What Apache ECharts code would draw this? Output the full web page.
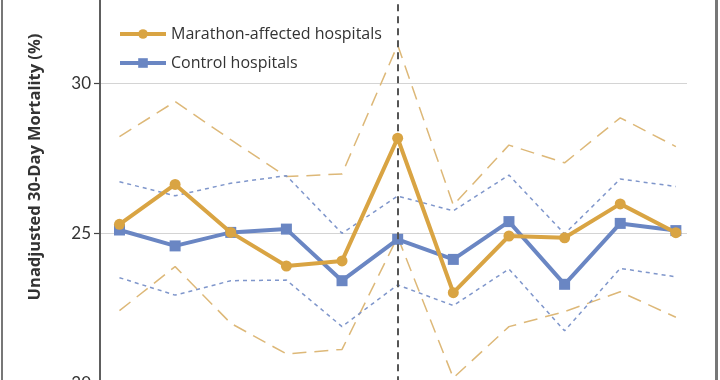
<!DOCTYPE html>
<html><head><meta charset="utf-8">
<script src="https://cdn.jsdelivr.net/npm/echarts@6/dist/echarts.min.js"></script>
<style>html,body{margin:0;padding:0;background:#fff}#c{width:720px;height:380px}</style>
</head><body><div id="c"></div>
<script>
var periods = [1,2,3,4,5,6,7,8,9,10,11];
var marathon = [25.30,26.63,25.03,23.91,24.08,28.17,23.02,24.91,24.85,25.98,25.02];
var marathonUpper = [28.22,29.39,28.12,26.89,26.98,31.28,25.94,27.94,27.35,28.85,27.89];
var marathonLower = [22.42,23.89,22.00,20.98,21.13,24.88,20.18,21.89,22.39,23.05,22.20];
var control = [25.11,24.58,25.03,25.14,23.42,24.80,24.13,25.39,23.30,25.33,25.09];
var controlUpper = [26.72,26.25,26.67,26.92,25.00,26.24,25.75,26.94,24.98,26.81,26.56];
var controlLower = [23.52,22.94,23.42,23.44,21.89,23.28,22.59,23.81,21.75,23.83,23.55];
var eventIndex = 5;
var xMin = 0.65, xMax = 11.2;

function pairs(arr){ return arr.map(function(v,i){ return [periods[i], v]; }); }

var orange = '#D9A443', orangeLight = '#DDB878', blue = '#6A86C3', blueLight = '#7F96CB';
var chart = echarts.init(document.getElementById('c'));
chart.setOption({
  animation: false,
  grid: {left: 100, right: 33, top: -66.7, bottom: -3.3, outerBoundsMode: 'none', containLabel: false},
  xAxis: {type: 'value', min: xMin, max: xMax, show: false},
  yAxis: {
    type: 'value', min: 20, max: 35, interval: 5, position: 'left',
    axisLine: {show: true, onZero: false, lineStyle: {color: '#555', width: 1.5}},
    axisTick: {show: true, inside: false, length: 6, lineStyle: {color: '#444', width: 1.2}},
    axisLabel: {color: '#333', fontSize: 17, fontFamily: 'Lato', margin: 9},
    splitLine: {show: true, lineStyle: {color: '#d4d4d4', width: 1.2}}
  },
  legend: {
    show: true, left: 113, top: 20, orient: 'vertical', itemGap: 11,
    itemWidth: 46, itemHeight: 12,
    lineStyle: {width: 4},
    textStyle: {fontSize: 16, fontFamily: 'Open Sans', color: '#333', lineHeight: 18},
    data: ['Marathon-affected hospitals', 'Control hospitals']
  },
  series: [
    {type: 'line', name: 'mu', data: pairs(marathonUpper), symbol: 'none', silent: true,
     lineStyle: {color: orangeLight, width: 1.5, type: [14, 8]}, z: 2,
     markLine: {silent: true, symbol: 'none', label: {show: false},
       lineStyle: {color: '#555', width: 1.5, type: 'solid'},
       data: [{xAxis: xMin}]}},
    {type: 'line', name: 'ml', data: pairs(marathonLower), symbol: 'none', silent: true,
     lineStyle: {color: orangeLight, width: 1.5, type: [14, 8]}, z: 2},
    {type: 'line', name: 'cu', data: pairs(controlUpper), symbol: 'none', silent: true,
     lineStyle: {color: blueLight, width: 1.5, type: [4, 4]}, z: 2},
    {type: 'line', name: 'cl', data: pairs(controlLower), symbol: 'none', silent: true,
     lineStyle: {color: blueLight, width: 1.5, type: [4, 4]}, z: 2},
    {type: 'line', name: 'Control hospitals', data: pairs(control), symbol: 'rect', symbolSize: 11,
     itemStyle: {color: blue}, lineStyle: {color: blue, width: 4}, z: 4,
     markLine: {silent: true, symbol: 'none', label: {show: false},
       lineStyle: {color: '#555', width: 2, type: [7, 5]},
       data: [{xAxis: periods[eventIndex]}]}},
    {type: 'line', name: 'Marathon-affected hospitals', data: pairs(marathon), symbol: 'circle', symbolSize: 11,
     itemStyle: {color: orange}, lineStyle: {color: orange, width: 4}, z: 5}
  ],
  graphic: [
    {type: 'text', x: 35, y: 167, rotation: Math.PI/2,
     style: {text: 'Unadjusted 30-Day Mortality (%)', fontSize: 16.5, fontWeight: 'bold', fontFamily: 'Open Sans', fill: '#333',
       align: 'center', verticalAlign: 'middle'}},
    {type: 'rect', shape: {x: 1, y: -2, width: 2, height: 384}, style: {fill: '#777'}},
    {type: 'rect', shape: {x: 715, y: -2, width: 3, height: 384}, style: {fill: '#777'}}
  ]
});
</script></body></html>
